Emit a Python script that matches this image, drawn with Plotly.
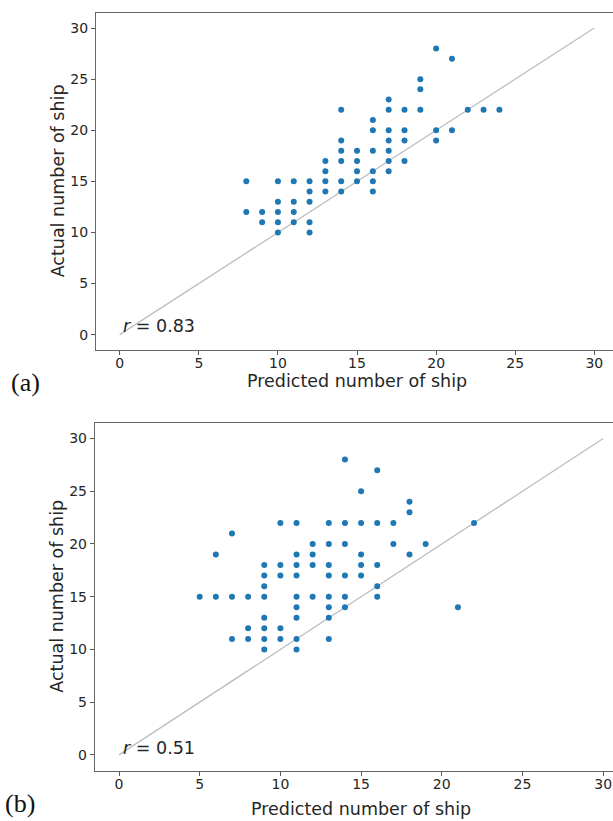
import plotly.graph_objects as go

# ---------------- data ----------------
# Panel (a): predicted vs actual number of ships
a_pred = [8, 8, 9, 9, 10, 10, 10, 10, 10, 11, 11, 11, 11, 12, 12, 12, 12, 12,
          13, 13, 13, 13, 14, 14, 14, 14, 14, 14, 15, 15, 15, 15,
          16, 16, 16, 16, 16, 16, 17, 17, 17, 17, 17, 17, 17,
          18, 18, 18, 18, 19, 19, 19, 20, 20, 20, 21, 21, 22, 23, 24]
a_actual = [15, 12, 12, 11, 15, 13, 12, 11, 10, 15, 13, 12, 11, 15, 14, 13, 11, 10,
            17, 16, 15, 14, 22, 19, 18, 17, 15, 14, 18, 17, 16, 15,
            21, 20, 18, 16, 15, 14, 23, 22, 20, 19, 18, 17, 16,
            22, 20, 19, 17, 25, 24, 22, 28, 20, 19, 27, 20, 22, 22, 22]

# Panel (b)
b_pred = [14, 16, 15, 18, 18,
          10, 11, 13, 14, 15, 16, 17, 22,
          7,
          12, 13, 14, 17, 19,
          6, 11, 12, 15, 18,
          9, 10, 11, 12, 13, 15, 16,
          9, 10, 11, 13, 14, 15,
          9, 16,
          5, 6, 7, 8, 9, 11, 12, 13, 14, 16,
          11, 13, 14, 21,
          9, 11, 13,
          8, 9, 10,
          7, 8, 9, 10, 11, 13,
          9, 11]
b_actual = [28, 27, 25, 24, 23,
            22, 22, 22, 22, 22, 22, 22, 22,
            21,
            20, 20, 20, 20, 20,
            19, 19, 19, 19, 19,
            18, 18, 18, 18, 18, 18, 18,
            17, 17, 17, 17, 17, 17,
            16, 16,
            15, 15, 15, 15, 15, 15, 15, 15, 15, 15,
            14, 14, 14, 14,
            13, 13, 13,
            12, 12, 12,
            11, 11, 11, 11, 11, 11,
            10, 10]

ref_line = [0, 30]
tick_vals = [0, 5, 10, 15, 20, 25, 30]
r_labels = ["<i>r</i> = 0.83", "<i>r</i> = 0.51"]
panel_labels = ["(a)", "(b)"]
x_title = "Predicted number of ship"
y_title = "Actual number of ship"

# ---------------- layout helpers ----------------
W, H = 613, 821
FONT = "DejaVu Sans"
TXT = "#262626"
DOT = "#1f77b4"


def py(px):
    return 1 - px / H


fig = go.Figure()

panels = [
    dict(x=a_pred, y=a_actual, xa="x", ya="y"),
    dict(x=b_pred, y=b_actual, xa="x2", ya="y2"),
]
for p in panels:
    fig.add_trace(go.Scatter(x=ref_line, y=ref_line, mode="lines",
                             line=dict(color="#bdbdbd", width=1.3),
                             xaxis=p["xa"], yaxis=p["ya"], hoverinfo="skip",
                             showlegend=False))
    fig.add_trace(go.Scatter(x=p["x"], y=p["y"], mode="markers",
                             marker=dict(color=DOT, size=6, line=dict(width=0)),
                             xaxis=p["xa"], yaxis=p["ya"], showlegend=False))

axis_common = dict(
    tickvals=tick_vals, ticks="outside", ticklen=4, tickwidth=1, tickcolor="#555",
    showline=True, linecolor="#666", linewidth=1, showgrid=False, zeroline=False,
    tickfont=dict(family=FONT, size=14, color=TXT), automargin=False,
)
x_extra = dict(ticklabelstandoff=-4)

fig.update_layout(
    width=W, height=H, margin=dict(l=0, r=0, t=0, b=0),
    paper_bgcolor="white", plot_bgcolor="white",
    xaxis=dict(domain=[96 / W, 1], range=[-1.5, 31.18], anchor="y", mirror=True, **axis_common, **x_extra),
    yaxis=dict(domain=[py(350), py(12.7)], range=[-1.5, 31.5], anchor="x", mirror=False, **axis_common),
    xaxis2=dict(domain=[94.8 / W, 1], range=[-1.5, 30.61], anchor="y2", mirror=True, **axis_common, **x_extra),
    yaxis2=dict(domain=[py(770.7), py(422.7)], range=[-1.5, 31.5], anchor="x2", mirror=False, **axis_common),
)

annos = []
title_font = dict(family=FONT, size=17.5, color=TXT)
# axis titles
for xr, yr, ty, yx in [("x", "y", 381, 58), ("x2", "y2", 809, 57)]:
    annos.append(dict(text=x_title, xref=xr, x=15, yref="paper", y=py(ty),
                      xanchor="center", yanchor="middle", showarrow=False, font=title_font))
    annos.append(dict(text=y_title, xref="paper", x=yx / W, yref=yr, y=15, textangle=-90,
                      xanchor="center", yanchor="middle", showarrow=False, font=title_font))
# r annotations
for (xr, yr, yv), lab in zip([("x", "y", 0.85), ("x2", "y2", 0.65)], r_labels):
    annos.append(dict(text=lab, xref=xr, x=0.1, yref=yr, y=yv, xanchor="left", yanchor="middle",
                      showarrow=False, font=title_font))
# panel labels
for (cx, cy), lab in zip([(25, 382), (20, 803)], panel_labels):
    annos.append(dict(text=lab, xref="paper", x=cx / W, yref="paper", y=py(cy),
                      xanchor="center", yanchor="middle", showarrow=False,
                      font=dict(family="Liberation Serif", size=26, color="#111")))

fig.update_layout(annotations=annos)
fig.write_html("out.html")
